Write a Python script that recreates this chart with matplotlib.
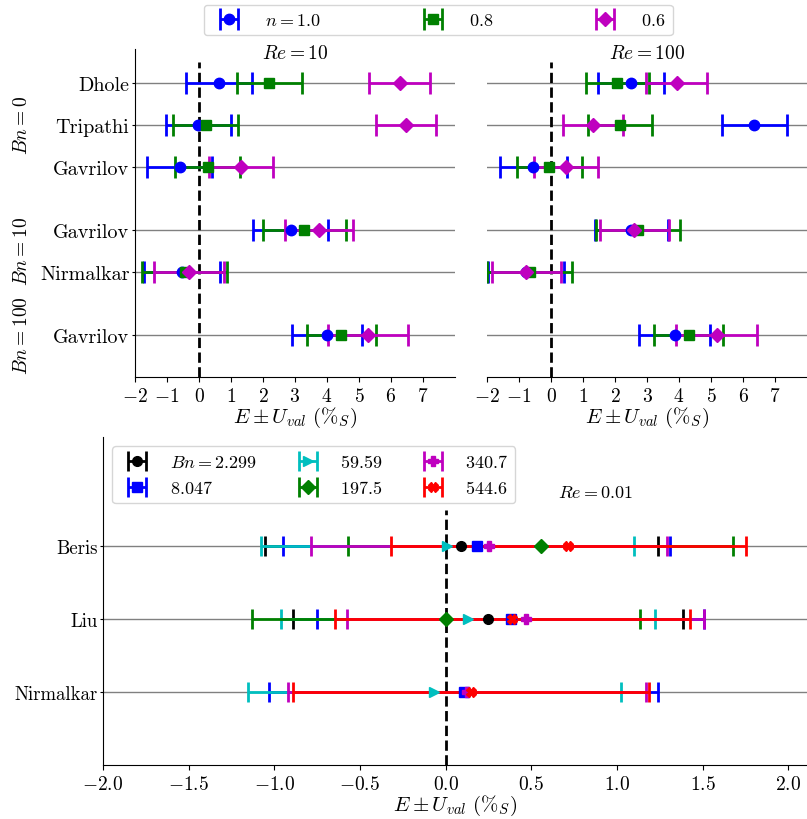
import matplotlib
matplotlib.use('Agg')
import matplotlib.pyplot as plt
import numpy as np

plt.rcParams['font.family'] = 'serif'
plt.rcParams['font.serif'] = ['cmr10']
plt.rcParams['mathtext.fontset'] = 'cm'
plt.rcParams['axes.formatter.use_mathtext'] = True

# top panels: rows and positions
rows_top = ['Dhole', 'Tripathi', 'Gavrilov', 'Gavrilov', 'Nirmalkar', 'Gavrilov']
ypos_top = [7, 6, 5, 3.5, 2.5, 1]
n_labels = ['$n = 1.0$', '$0.8$', '$0.6$']
n_colors = ['b', 'g', 'm']
n_markers = ['o', 's', 'D']

# Re = 10
E10 = [[0.63, -0.02, -0.60, 2.86, -0.54, 4.00],
       [2.20, 0.21, 0.27, 3.29, -0.45, 4.44],
       [6.27, 6.47, 1.31, 3.76, -0.31, 5.28]]
U10 = [[1.03, 1.02, 1.02, 1.17, 1.19, 1.10],
       [1.01, 1.01, 1.02, 1.29, 1.33, 1.08],
       [0.95, 0.93, 0.99, 1.06, 1.10, 1.25]]
# Re = 100
E100 = [[2.50, 6.35, -0.55, 2.51, -0.79, 3.86],
        [2.07, 2.16, -0.05, 2.72, -0.66, 4.30],
        [3.93, 1.31, 0.48, 2.60, -0.77, 5.18]]
U100 = [[1.03, 1.02, 1.04, 1.15, 1.19, 1.11],
        [0.99, 1.01, 1.02, 1.31, 1.33, 1.08],
        [0.95, 0.95, 1.00, 1.08, 1.09, 1.26]]

# bottom panel (Re = 0.01)
rows_bot = ['Beris', 'Liu', 'Nirmalkar']
ypos_bot = [3, 2, 1]
bn_labels = ['$Bn = 2.299$', '$8.047$', '$59.59$', '$197.5$', '$340.7$', '$544.6$']
bn_colors = ['k', 'b', 'c', 'g', 'm', 'r']
bn_markers = ['o', 's', '>', 'D', 'P', 'X']
E_bot = [[0.092, 0.247, np.nan],
         [0.181, 0.380, 0.105],
         [0.010, 0.130, -0.065],
         [0.555, 0.004, np.nan],
         [0.253, 0.467, 0.125],
         [0.717, 0.390, 0.150]]
U_bot = [[1.147, 1.139, np.nan],
         [1.130, 1.130, 1.135],
         [1.090, 1.092, 1.090],
         [1.124, 1.133, np.nan],
         [1.040, 1.040, 1.045],
         [1.037, 1.038, 1.040]]

fig = plt.figure(figsize=(8.07, 8.2), dpi=100)
ax1 = fig.add_axes([0.1673, 0.539, 0.3965, 0.400])
ax2 = fig.add_axes([0.6035, 0.539, 0.3965, 0.400])
ax3 = fig.add_axes([0.1276, 0.066, 0.8724, 0.400])

handles_top = []
for ax, E, U, title in [(ax1, E10, U10, '$Re = 10$'), (ax2, E100, U100, '$Re = 100$')]:
    for y in ypos_top:
        ax.axhline(y, color='grey', lw=1, zorder=0)
    ax.plot([0, 0], [0, 7.5], 'k--', lw=2, zorder=1)
    hs = []
    for i in range(3):
        h = ax.errorbar(E[i], ypos_top, xerr=U[i], fmt=n_markers[i], color=n_colors[i],
                        ms=7.5, lw=2, capsize=8, capthick=2, label=n_labels[i])
        hs.append(h)
    handles_top = hs
    ax.set_xlim(-2, 8)
    ax.set_ylim(0, 7.8)
    ax.set_xticks(range(-2, 8))
    ax.tick_params(axis='x', labelsize=14)
    ax.set_xlabel(r'$E \pm U_{val}\ (\%_S)$', fontsize=15, labelpad=0)
    ax.spines['top'].set_visible(False)
    ax.spines['right'].set_visible(False)
    ax.text(0.5, 0.988, title, transform=ax.transAxes, ha='center', va='center', fontsize=14)

ax1.set_yticks(ypos_top)
ax1.set_yticklabels(rows_top, fontsize=14.5)
ax1.tick_params(axis='y', length=2, pad=2)
ax2.set_yticks([])
ax2.spines['left'].set_visible(False)

for txt, y in [('$Bn = 0$', 6), ('$Bn = 10$', 3), ('$Bn = 100$', 1)]:
    ax1.text(-0.352, y, txt, transform=ax1.get_yaxis_transform(), rotation=90,
             ha='center', va='center', fontsize=14)

fig.legend(handles=handles_top, loc='upper center', bbox_to_anchor=(0.543, 1.004),
           ncol=3, fontsize=13, columnspacing=5.2, handletextpad=1.0)

# bottom panel
for y in ypos_bot:
    ax3.axhline(y, color='grey', lw=1, zorder=0)
ax3.plot([0, 0], [0, 3.5], 'k--', lw=2, zorder=1)
hb = []
for i in range(6):
    h = ax3.errorbar(E_bot[i], ypos_bot, xerr=U_bot[i], fmt=bn_markers[i], color=bn_colors[i],
                     ms=7, lw=2, capsize=7, capthick=2, label=bn_labels[i])
    hb.append(h)
ax3.set_xlim(-2, 2.11)
ax3.set_ylim(0, 4.5)
ax3.set_xticks(np.arange(-2, 2.01, 0.5))
ax3.tick_params(axis='x', labelsize=14)
ax3.set_yticks(ypos_bot)
ax3.set_yticklabels(rows_bot, fontsize=13.5)
ax3.tick_params(axis='y', length=2, pad=2)
ax3.set_xlabel(r'$E \pm U_{val}\ (\%_S)$', fontsize=15, labelpad=0)
ax3.spines['top'].set_visible(False)
ax3.spines['right'].set_visible(False)
ax3.text(0.70, 0.832, '$Re = 0.01$', transform=ax3.transAxes, ha='center', va='center', fontsize=13)
ax3.legend(handles=hb, loc='upper left', bbox_to_anchor=(0.0, 1.0), ncol=3, fontsize=13,
           columnspacing=1.8, handletextpad=0.8, borderaxespad=0.5)

fig.savefig('out.png', dpi=100)
